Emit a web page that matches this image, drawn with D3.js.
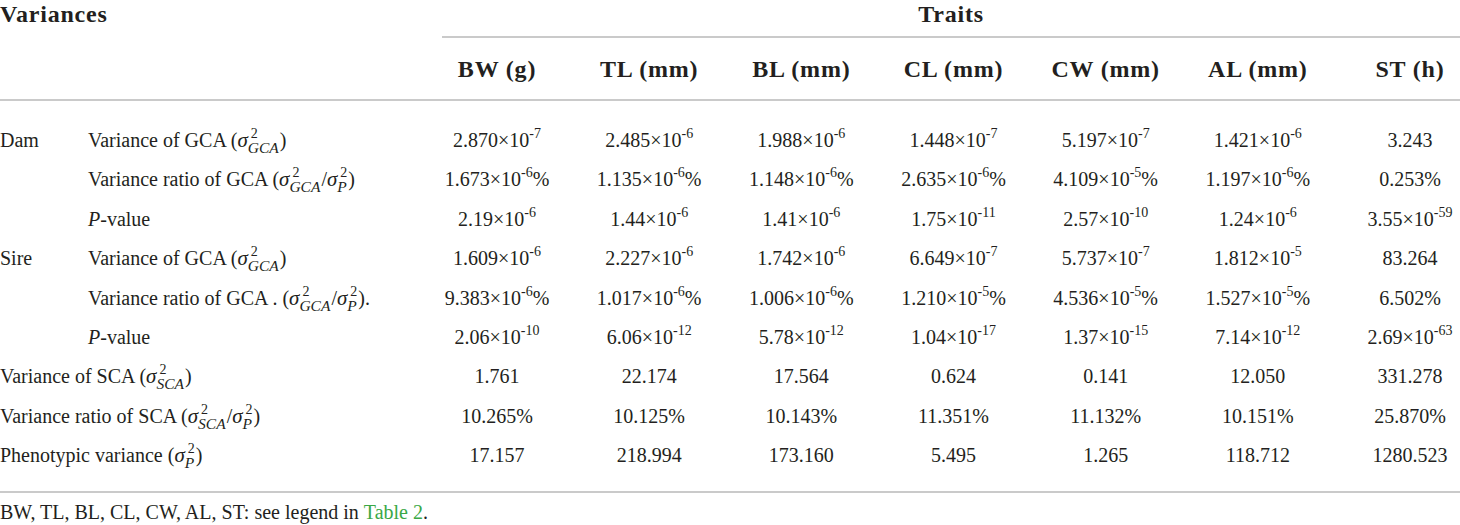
<!DOCTYPE html>
<html>
<head>
<meta charset="utf-8">
<script src="https://cdn.jsdelivr.net/npm/d3@7"></script>
<style>
  body { margin: 0; background: #fff; }
  svg text { font-family: "Liberation Serif", "DejaVu Serif", serif; fill: #231f20; white-space: pre; }
</style>
</head>
<body>
<svg id="table"></svg>
<script>
// Column headers
const traits = ['BW (g)', 'TL (mm)', 'BL (mm)', 'CL (mm)', 'CW (mm)', 'AL (mm)', 'ST (h)'];

// Row values (exponent after ^)
const damGCA = ['2.870×10^-7', '2.485×10^-6', '1.988×10^-6', '1.448×10^-7', '5.197×10^-7', '1.421×10^-6', '3.243'];
const damRatio = ['1.673×10^-6%', '1.135×10^-6%', '1.148×10^-6%', '2.635×10^-6%', '4.109×10^-5%', '1.197×10^-6%', '0.253%'];
const damP = ['2.19×10^-6', '1.44×10^-6', '1.41×10^-6', '1.75×10^-11', '2.57×10^-10', '1.24×10^-6', '3.55×10^-59'];
const sireGCA = ['1.609×10^-6', '2.227×10^-6', '1.742×10^-6', '6.649×10^-7', '5.737×10^-7', '1.812×10^-5', '83.264'];
const sireRatio = ['9.383×10^-6%', '1.017×10^-6%', '1.006×10^-6%', '1.210×10^-5%', '4.536×10^-5%', '1.527×10^-5%', '6.502%'];
const sireP = ['2.06×10^-10', '6.06×10^-12', '5.78×10^-12', '1.04×10^-17', '1.37×10^-15', '7.14×10^-12', '2.69×10^-63'];
const scaVar = ['1.761', '22.174', '17.564', '0.624', '0.141', '12.050', '331.278'];
const scaRatio = ['10.265%', '10.125%', '10.143%', '11.351%', '11.132%', '10.151%', '25.870%'];
const phenoVar = ['17.157', '218.994', '173.160', '5.495', '1.265', '118.712', '1280.523'];

const rowKeys = ['damGCA', 'damRatio', 'damP', 'sireGCA', 'sireRatio', 'sireP', 'scaVar', 'scaRatio', 'phenoVar'];
const rowValues = [damGCA, damRatio, damP, sireGCA, sireRatio, sireP, scaVar, scaRatio, phenoVar];
const groupLabels = { damGCA: 'Dam', sireGCA: 'Sire' };

const width = 1460, height = 525;
const svg = d3.select('#table').attr('width', width).attr('height', height);

const xCol = d3.scalePoint().domain(traits).range([497, 1410]);
const yRow = d3.scalePoint().domain(rowKeys).range([147, 462]);

// sigma symbol pieces
const sigma = (sub) => [
  { t: 'σ', italic: true, size: 21 },
  { t: '2', size: 14, dy: -9, stack: 'sup', dx: 3 },
  { t: sub, size: 15.5, dy: 6, italic: true, stack: 'sub' }
];

const rowLabels = {
  damGCA: [{ t: 'Variance of GCA (' }, ...sigma('GCA'), { t: ')' }],
  damRatio: [{ t: 'Variance ratio of GCA (' }, ...sigma('GCA'), { t: '/' }, ...sigma('P'), { t: ')' }],
  damP: [{ t: 'P', italic: true }, { t: '-value' }],
  sireGCA: [{ t: 'Variance of GCA (' }, ...sigma('GCA'), { t: ')' }],
  sireRatio: [{ t: 'Variance ratio of GCA . (' }, ...sigma('GCA'), { t: '/' }, ...sigma('P'), { t: ').' }],
  sireP: [{ t: 'P', italic: true }, { t: '-value' }],
  scaVar: [{ t: 'Variance of SCA (' }, ...sigma('SCA'), { t: ')' }],
  scaRatio: [{ t: 'Variance ratio of SCA (' }, ...sigma('SCA'), { t: '/' }, ...sigma('P'), { t: ')' }],
  phenoVar: [{ t: 'Phenotypic variance (' }, ...sigma('P'), { t: ')' }]
};
const labelIndent = { damGCA: 88, damRatio: 88, damP: 88, sireGCA: 88, sireRatio: 88, sireP: 88 };

// Lay out a run of text pieces, one <text> each, measured as we go
function rich(parent, parts, x, y, anchor) {
  const g = parent.append('g');
  let cx = 0, supW = 0, supX = 0;
  parts.forEach(p => {
    const t = g.append('text')
      .attr('y', p.dy || 0)
      .style('font-size', (p.size || 20) + 'px')
      .style('font-style', p.italic ? 'italic' : null)
      .style('font-weight', p.bold ? 'bold' : null)
      .style('letter-spacing', p.spacing ? p.spacing + 'px' : null)
      .text(p.t);
    const w = t.node().getComputedTextLength();
    if (p.stack === 'sup') {
      t.attr('x', cx + (p.dx || 0));
      supW = w + (p.dx || 0);
      supX = cx;
    } else if (p.stack === 'sub') {
      t.attr('x', supX);
      cx = supX + Math.max(supW, w) + 1;
    } else {
      t.attr('x', cx);
      cx += w;
    }
  });
  const shift = anchor === 'middle' ? -cx / 2 : 0;
  g.attr('transform', `translate(${x + shift},${y})`);
  return g;
}

function valueParts(s) {
  const m = s.match(/^([^\^]*)(?:\^(-?\d+))?(%?)$/);
  const parts = [{ t: m[1] }];
  if (m[2]) parts.push({ t: m[2], size: 14, dy: -9 });
  if (m[3]) parts.push({ t: m[3] });
  return parts;
}

const head = (t) => ({ t, bold: true, size: 24, spacing: 0.8 });

// Header
rich(svg, [head('Variances')], 0, 22);
rich(svg, [head('Traits')], (442 + width) / 2, 22, 'middle');

const rule = (x1, x2, y) => svg.append('line')
  .attr('x1', x1).attr('x2', x2).attr('y1', y).attr('y2', y)
  .attr('stroke', '#b8b8b8').attr('stroke-width', 1.6);

rule(442, width, 37);
rule(0, width, 100);
rule(0, width, 492);

traits.forEach(tr => rich(svg, [head(tr)], xCol(tr), 77, 'middle'));

// Body
rowKeys.forEach((key, i) => {
  const y = yRow(key);
  if (groupLabels[key]) rich(svg, [{ t: groupLabels[key] }], 0, y);
  rich(svg, rowLabels[key], labelIndent[key] || 0, y);
  rowValues[i].forEach((v, j) => rich(svg, valueParts(v), xCol(traits[j]), y, 'middle'));
});

// Footnote
const foot = rich(svg, [
  { t: 'BW, TL, BL, CL, CW, AL, ST: see legend in ' },
  { t: 'Table 2' },
  { t: '.' }
], 0, 519);
foot.selectAll('text').filter((d, i) => i === 1).style('fill', '#3aa845');
</script>
</body>
</html>
